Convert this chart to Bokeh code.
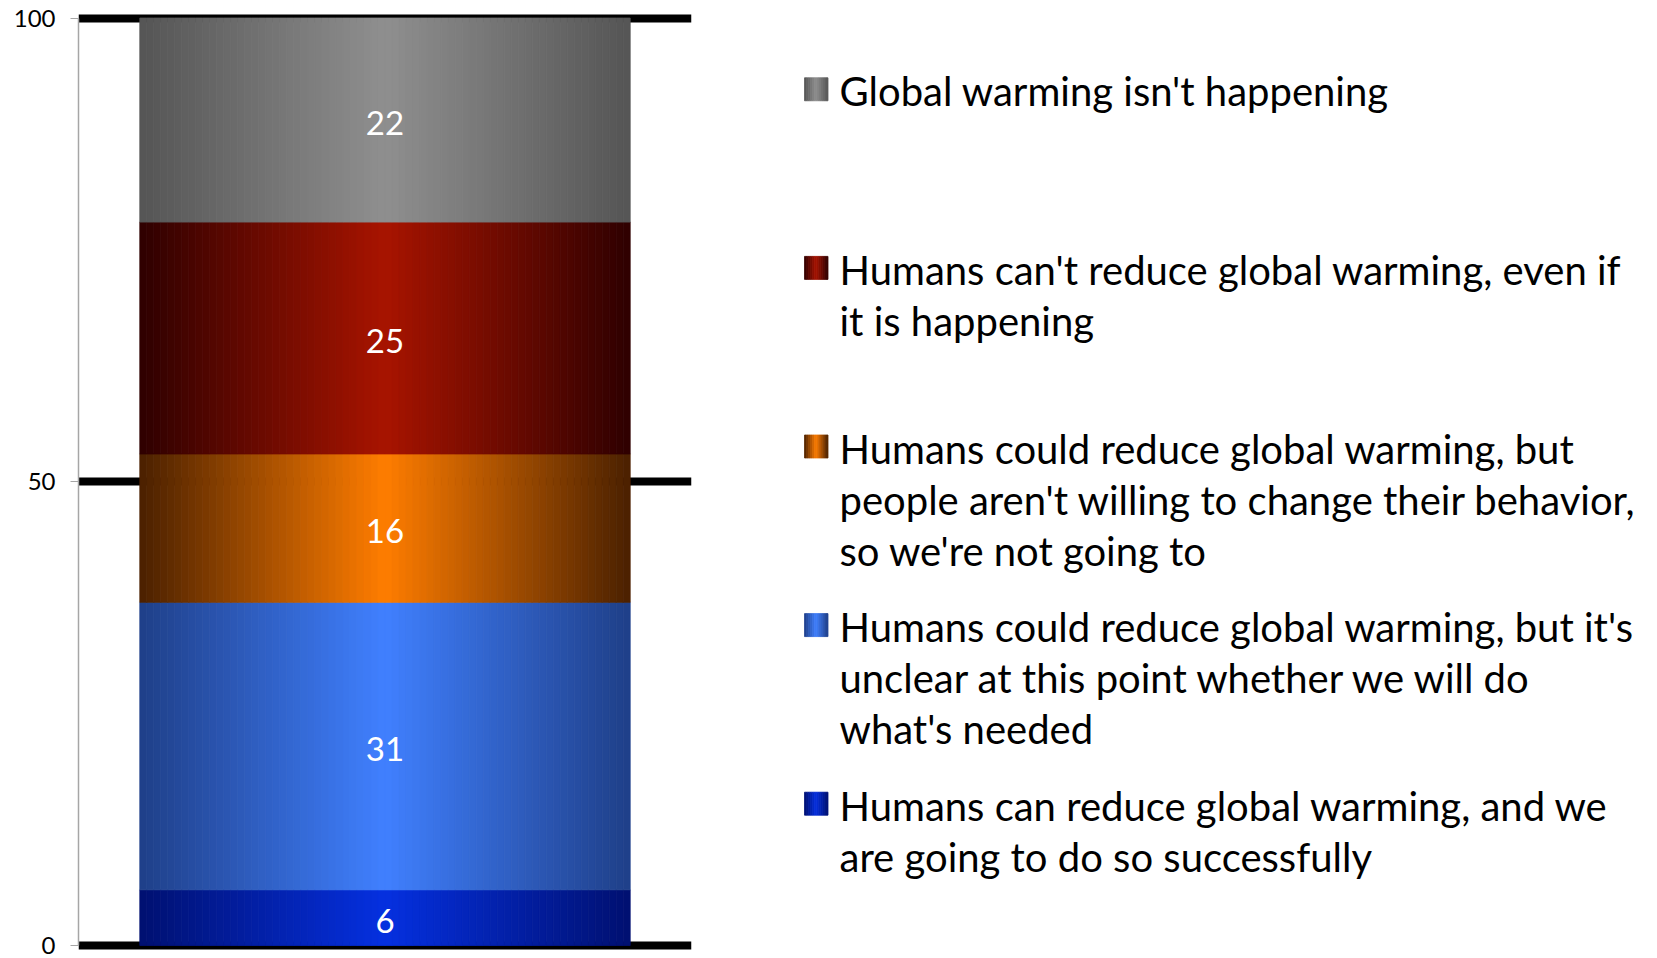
from bokeh.plotting import figure
from bokeh.models import Range1d, FixedTicker, ColumnDataSource
from bokeh.layouts import row
from bokeh.embed import file_html
from bokeh.resources import INLINE
from bokeh.core.properties import value

# ---- data (bottom to top of the stacked bar) ----
categories = [
    "Humans can reduce global warming, and we\nare going to do so successfully",
    "Humans could reduce global warming, but it's\nunclear at this point whether we will do\nwhat's needed",
    "Humans could reduce global warming, but\npeople aren't willing to change their behavior,\nso we're not going to",
    "Humans can't reduce global warming, even if\nit is happening",
    "Global warming isn't happening",
]
values = [6, 31, 16, 25, 22]
edge_colors = ["#001070", "#1f3f88", "#4a2000", "#2e0000", "#555555"]
center_colors = ["#0530e0", "#4080ff", "#ff7d00", "#a81400", "#8f8f8f"]
y_ticks = [0, 50, 100]

FONT = "Lato"


def hex2rgb(h):
    h = h.lstrip("#")
    return [int(h[i:i + 2], 16) for i in (0, 2, 4)]


def mix(c1, c2, t):
    a, b = hex2rgb(c1), hex2rgb(c2)
    return "#%02x%02x%02x" % tuple(int(round(a[i] + (b[i] - a[i]) * t)) for i in range(3))


def gradient_strips(left, right, bottom, top, edge, center, n):
    out = dict(left=[], right=[], bottom=[], top=[], color=[])
    w = (right - left) / n
    for j in range(n):
        t = 1 - abs(2 * (j + 0.5) / n - 1)
        out["left"].append(left + j * w)
        out["right"].append(left + (j + 1) * w)
        out["bottom"].append(bottom)
        out["top"].append(top)
        out["color"].append(mix(edge, center, t))
    return out


# ---- chart ----
H = 958
p = figure(width=708, height=H, x_range=Range1d(0, 1), y_range=Range1d(-0.54, 100.49),
           output_backend="svg", toolbar_location=None, x_axis_location=None, title=None,
           min_border_left=78, min_border_right=17, min_border_top=13, min_border_bottom=8)
p.outline_line_color = None
p.xgrid.visible = False
p.ygrid.ticker = FixedTicker(ticks=y_ticks)
p.ygrid.grid_line_color = "black"
p.ygrid.grid_line_width = 8

ax = p.yaxis[0]
ax.ticker = FixedTicker(ticks=y_ticks)
ax.bounds = (0, 100)
ax.axis_line_color = "#a6a6a6"
ax.axis_line_width = 1.5
ax.major_tick_line_color = "#a6a6a6"
ax.major_tick_out = 8
ax.major_tick_in = 0
ax.minor_tick_line_color = None
ax.major_label_text_font = FONT
ax.major_label_text_font_size = "24px"
ax.major_label_text_color = "black"
ax.major_label_standoff = 15

strips = dict(left=[], right=[], bottom=[], top=[], color=[])
mids = []
cum = 0
for v, e, c in zip(values, edge_colors, center_colors):
    s = gradient_strips(0.1, 0.9, cum, cum + v, e, c, 70)
    for k in strips:
        strips[k] += s[k]
    mids.append(cum + v / 2)
    cum += v
p.quad(left="left", right="right", bottom="bottom", top="top", fill_color="color",
       line_color="color", line_width=0.8, source=ColumnDataSource(strips))

p.text(x=[0.5] * len(values), y=mids, text=[str(v) for v in values],
       text_color="white", text_align="center", text_baseline="middle",
       text_font=value(FONT), text_font_size="33px", y_offset=3)

# ---- legend panel ----
LW = 949
q = figure(width=LW, height=H, x_range=Range1d(0, LW), y_range=Range1d(H, 0),
           output_backend="svg", toolbar_location=None, title=None,
           x_axis_location=None, y_axis_location=None,
           min_border_left=0, min_border_right=0, min_border_top=0, min_border_bottom=0)
q.outline_line_color = None
q.xgrid.visible = False
q.ygrid.visible = False

step = 182.6
sw = dict(left=[], right=[], bottom=[], top=[], color=[])
lx, ly, lt = [], [], []
order = list(range(len(categories)))[::-1]
for k, i in enumerate(order):
    sc = 77.5 + k * step
    s = gradient_strips(96, 119.5, sc - 11.75, sc + 11.75, edge_colors[i], center_colors[i], 12)
    for key in sw:
        sw[key] += s[key]
    lx.append(131)
    ly.append(55.2 + k * step)
    lt.append(categories[i])
q.quad(left="left", right="right", bottom="bottom", top="top", fill_color="color",
       line_color="color", line_width=0.8, source=ColumnDataSource(sw))
q.text(x=lx, y=ly, text=lt, text_color="black", text_align="left", text_baseline="top",
       text_font=value(FONT), text_font_size="40px", text_line_height=1.064)

layout = row(p, q)
open("out.html", "w").write(file_html(layout, INLINE))
